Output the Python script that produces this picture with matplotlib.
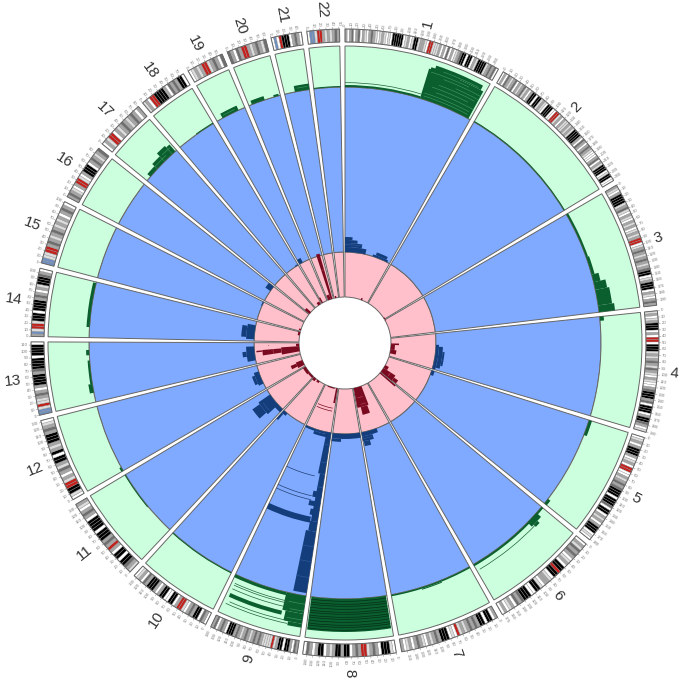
import numpy as np
import matplotlib
matplotlib.use('Agg')
import matplotlib.pyplot as plt

names = [str(i) for i in range(1, 23)]
sizes = [249, 243, 198, 191, 181, 171, 159, 146, 141, 135, 135, 133, 115, 107, 102, 90, 81, 78, 59, 63, 48, 51]

# one letter per band, clockwise along each chromosome
bands = [
    "mwmdwmdwmlwmdmlwlmlwlwkkkkkwlmwlkklmmlwrrlllmwmwdwmwlmdkkwkkwmlkkkklmdmdw",
    "wmwdmlmdwmlmdlmwmkkwkklmlwkkkwwrrlmwmllmlmlkkkkmwdmwmdmlwwwmdwmlkkkwlkkww",
    "mlwmkkkklmdlwmlwmlmwlmlmrrwlmdmlmdmlmdkkwlmkkkwmlwmdm",
    "lmwlmkkkwmwrrwkkklmlmdmldmlwmlwwmdkkkmdwkkkwmkkdmwl",
    "wlmwmkkkmwlmwrrwwmlmdmdkkkwkkkdwkkwmlmwmkkkwlw",
    "wmldmdmwlmwkkrkkwlmmwlkkwwkkkdmdwmlwmw",
    "mwkkwkkmdmdmlmlrwlwkkkmdmlmwlmdmwmlwm",
    "wlkkkwmdmlrrmdmwkkmkkmlmwkkmwmdw",
    "mdwmkkwkkmlrllllmdmdmlmdmlmdmkkkwmdmwdm",
    "wmdwkkmdmwlrrmwkkwwkkmwmkkkmdwmlw",
    "lmdkkwkkwmrmdmkkkwkkkkwmdmwlm",
    "wlkkrrlmwmdlmkkwkmlmkkkmdmlw",
    "bblrllmdmwmkkkkmdkkkkwkkkkw",
    "mblrrlkkkwkkkkmdmwmlkkkdmw",
    "bbllrrmdmlmdmlmlmwmdmw",
    "mdmlwmrrlwmkkkwmdmlmd",
    "wmlrrwmlmdmlmdmwm",
    "lmwrrkkkkmwdmdmkkw",
    "wlmlmrrlmdmwd",
    "dmwdmrrmlmdmld",
    "wbwrkkkwmdmw",
    "wbblrrmlmlmdm",
]

# (chromosome, start Mb, end Mb, low, high) heights above the inner edge of each track
green_blocks = [
    (1, 0, 145, 0, 2), (1, 145, 245, 0, 31), (1, 155, 240, 31, 36), (1, 148, 200, 28, 33),
    (2, 0, 243, 0, 1),
    (3, 0, 90, 0, 2), (3, 90, 125, 0, 3), (3, 125, 140, 0, 7), (3, 140, 155, 0, 12), (3, 155, 185, 0, 14),
    (3, 185, 198, 0, 16),
    (4, 0, 8, 0, 4),
    (5, 0, 30, 0, 3), (5, 170, 181, 0, 3),
    (6, 0, 171, 0, 2), (6, 15, 40, 0, 6), (6, 25, 35, 6, 9),
    (7, 0, 159, 0, 1.5), (7, 60, 100, 1.5, 2.5),
    (8, 2, 144, 0, 33),
    (9, 0, 38, 0, 18), (9, 0, 32, 18, 28), (9, 0, 24, 28, 32),
    (9, 38, 141, 0, 3), (9, 38, 135, 19, 23),
    (10, 0, 135, 0, 1), (11, 60, 135, 0, 1), (12, 0, 8, 0, 2),
    (13, 18, 35, 0, 4), (13, 35, 80, 0, 2), (13, 90, 100, 0, 3), (14, 20, 105, 0, 3),
    (17, 10, 30, 0, 4), (17, 30, 50, 0, 7), (17, 50, 70, 0, 11), (17, 70, 78, 0, 9),
    (18, 40, 78, 0, 1),
    (19, 12, 46, 0, 5),
    (20, 6, 32, 0, 4), (20, 50, 60, 0, 2),
    (21, 20, 48, 0, 6),
    (22, 0, 51, 0, 1),
]
green_lines = [
    (1, 0, 145, 4), (6, 30, 165, 7), (9, 30, 135, 10), (9, 30, 135, 8),
    (9, 38, 135, 14), (9, 25, 135, 30), (9, 25, 130, 27),
]
green_streaks = [
    (1, 150, 240, 3), (1, 150, 240, 6), (1, 170, 245, 10), (1, 160, 230, 14), (1, 170, 240, 18),
    (1, 200, 245, 21), (1, 175, 245, 25), (1, 150, 220, 28), (1, 170, 235, 32),
    (9, 0, 30, 8), (9, 0, 25, 15), (9, 0, 28, 24), (17, 55, 75, 6), (17, 30, 60, 3), (21, 25, 45, 3),
    (19, 15, 40, 2),
]
chr8_rows = [2, 5, 7, 10, 13, 15, 18, 20, 23, 26, 28, 31]

blue_blocks = [
    (1, 0, 110, 0, 5), (1, 0, 85, 5, 9), (1, 0, 60, 9, 12), (1, 0, 35, 12, 15),
    (1, 150, 235, 0, 2), (1, 165, 225, 2, 5),
    (4, 60, 190, 0, 3), (4, 70, 180, 3, 7), (4, 95, 165, 7, 9),
    (5, 0, 25, 0, 3),
    (7, 75, 159, 0, 4), (7, 105, 159, 4, 9), (7, 125, 155, 9, 14),
    (8, 0, 146, 0, 5), (8, 100, 146, 5, 8),
    (9, 0, 141, 0, 2), (9, 15, 90, 2, 5),
    (9, 0, 25, 0, 42), (9, 0, 18, 42, 90), (9, 0, 28, 60, 66), (9, 0, 34, 70, 75), (9, 0, 25, 78, 84),
    (9, 0, 26, 100, 162), (9, 0, 20, 90, 100),
    (9, 20, 141, 86, 92),
    (10, 110, 135, 0, 3), (10, 125, 135, 3, 11),
    (11, 0, 40, 0, 4), (11, 35, 105, 0, 14), (11, 45, 95, 14, 23),
    (12, 30, 100, 0, 5), (12, 40, 85, 5, 8),
    (13, 20, 95, 0, 8), (13, 45, 70, 8, 12),
    (14, 10, 85, 0, 8), (14, 20, 75, 8, 13),
    (15, 80, 102, 0, 1),
    (16, 60, 90, 0, 6),
    (18, 60, 78, 0, 1),
    (19, 0, 20, 0, 5),
]
blue_lines = [(9, 35, 141, 45), (9, 30, 141, 65), (9, 30, 141, 69)]
blue_streaks = [
    (9, 0, 26, 115), (9, 0, 26, 130), (9, 0, 26, 146), (9, 0, 20, 55), (9, 0, 20, 30), (9, 0, 20, 12),
    (1, 0, 80, 7), (11, 45, 90, 10), (7, 110, 155, 6),
]

red_blocks = [
    (1, 170, 185, 0, 2), (2, 225, 243, 0, 1),
    (3, 0, 10, 0, 1),
    (4, 55, 70, 0, 8), (4, 70, 120, 0, 4), (4, 120, 160, 0, 6),
    (5, 95, 130, 0, 4), (5, 130, 181, 0, 14), (5, 150, 178, 14, 19),
    (6, 0, 12, 0, 20),
    (7, 70, 155, 0, 20), (7, 80, 130, 20, 28),
    (9, 5, 20, 0, 15),
    (9, 35, 110, 0, 1), (10, 60, 90, 0, 2), (10, 105, 135, 0, 3),
    (11, 0, 60, 0, 2), (11, 60, 135, 0, 3),
    (12, 15, 70, 0, 7), (12, 30, 60, 7, 13),
    (13, 25, 80, 0, 18), (13, 40, 72, 18, 37), (13, 62, 70, 37, 43),
    (13, 80, 105, 0, 3),
    (14, 70, 107, 0, 2), (15, 10, 25, 0, 2),
    (17, 0, 25, 0, 6),
    (18, 40, 70, 0, 3),
    (19, 0, 12, 0, 6),
    (20, 33, 52, 0, 47), (20, 5, 33, 0, 5),
    (21, 10, 25, 0, 2),
]
red_lines = [(9, 17, 130, 23), (9, 17, 130, 20), (13, 96, 100, 30)]
red_streaks = [(7, 90, 140, 10), (7, 85, 125, 17), (5, 135, 170, 8), (13, 40, 72, 26), (20, 35, 50, 30)]

band_colors = {'w': '#ffffff', 'l': '#dcdcdc', 'm': '#a6a6a6', 'd': '#6e6e6e', 'k': '#000000',
               'r': '#c4201c', 'b': '#6f8fc0'}
edge = '#666666'
r_pink = 46
r_blue = 91
r_green = 256
r_outer = 297
r_ideo = (301, 314)

fig = plt.figure(figsize=(6.85, 6.8), dpi=100)
rmax = 330
ax = fig.add_axes([(345 - rmax) / 685, (680 - 343 - rmax) / 680, 2 * rmax / 685, 2 * rmax / 680], polar=True)
ax.set_theta_zero_location('N')
ax.set_theta_direction(-1)
ax.set_ylim(0, rmax)
ax.set_axis_off()

gap = 1.0
scale = (360 - gap * len(sizes)) / sum(sizes)
starts = []
pos = 0
for s in sizes:
    starts.append(pos)
    pos += s * scale + gap


def theta(c, mb):
    return np.radians(starts[c - 1] + mb * scale)


def arc(c, a, b, low, high, color, **kw):
    t0 = theta(c, a)
    t1 = theta(c, b)
    kw.setdefault('linewidth', 0)
    ax.bar((t0 + t1) / 2, high - low, t1 - t0, bottom=low, color=color, **kw)


def radial(deg):
    if deg < 180:
        return 90 - deg, 'left'
    return 270 - deg, 'right'


# track backgrounds
for i, s in enumerate(sizes):
    c = i + 1
    for low, high, col in [(r_pink, r_blue, '#ffc0cb'), (r_blue, r_green, '#80aaff'), (r_green, r_outer, '#ccffdd')]:
        ax.bar(theta(c, s / 2), high - low, np.radians(s * scale), bottom=low, color=col,
               edgecolor=edge, linewidth=0.7)

# green track
for c, a, b, lo, hi in green_blocks:
    arc(c, a, b, r_green + lo, r_green + hi, '#0b5e2e')
for h in chr8_rows:
    arc(8, 2, 144, r_green + h, r_green + h + 0.7, '#04301a')
for c, a, b, h in green_streaks:
    arc(c, a, b, r_green + h, r_green + h + 0.6, '#3f9a60')
for c, a, b, h in green_lines:
    arc(c, a, b, r_green + h, r_green + h + 0.7, '#1f5f3a')

# blue track
for c, a, b, lo, hi in blue_blocks:
    arc(c, a, b, r_blue + lo, r_blue + hi, '#143d7c')
for c, a, b, h in blue_streaks:
    arc(c, a, b, r_blue + h, r_blue + h + 0.6, '#2f5a9c')
for c, a, b, h in blue_lines:
    arc(c, a, b, r_blue + h, r_blue + h + 0.7, '#1f3f70')

# red track
for c, a, b, lo, hi in red_blocks:
    arc(c, a, b, r_pink + lo, r_pink + hi, '#7a0a20')
for c, a, b, h in red_lines:
    arc(c, a, b, r_pink + h, r_pink + h + 0.7, '#7a0a20')
for c, a, b, h in red_streaks:
    arc(c, a, b, r_pink + h, r_pink + h + 0.6, '#b84a5c')

# ideogram, ticks, labels
for i, s in enumerate(sizes):
    c = i + 1
    codes = bands[i]
    w = s / len(codes)
    for j, code in enumerate(codes):
        arc(c, j * w, (j + 1) * w, r_ideo[0], r_ideo[1], band_colors[code], edgecolor='#8c8c8c', linewidth=0.25)
    ax.bar(theta(c, s / 2), r_ideo[1] - r_ideo[0], np.radians(s * scale), bottom=r_ideo[0],
           facecolor='none', edgecolor=edge, linewidth=0.7)
    for mb in range(0, s, 10):
        t = theta(c, mb)
        ax.plot([t, t], [r_ideo[1], r_ideo[1] + 2], color='#888888', lw=0.35)
        rot, ha = radial(np.degrees(t))
        ax.text(t, r_ideo[1] + 3, str(mb), fontsize=3.2, color='#808080', rotation=rot, ha=ha, va='center',
                rotation_mode='anchor', family='Liberation Sans')
    t = theta(c, s / 2)
    rot, ha = radial(np.degrees(t))
    ax.text(t, 326, names[i], fontsize=11, color='#333333', rotation=rot, ha=ha, va='center',
            rotation_mode='anchor', family='Liberation Sans')

fig.savefig('out.png', dpi=100)
